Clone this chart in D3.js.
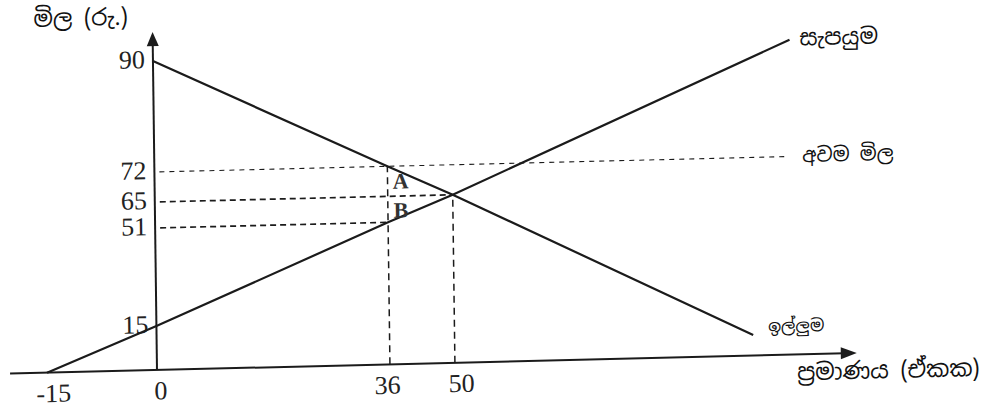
<!DOCTYPE html>
<html>
<head>
<meta charset="utf-8">
<script src="https://cdn.jsdelivr.net/npm/d3@7"></script>
<style>
  body { margin: 0; background: #fff; }
  .num { font-family: "Liberation Serif", "Times New Roman", serif; font-size: 26px; fill: #222; }
  .si { font-family: "Noto Sans Sinhala", "Iskoola Pota", "Noto Sans", sans-serif; font-size: 20px; fill: #111; }
  .pt { font-family: "Liberation Serif", serif; font-weight: bold; font-size: 22px; fill: #333; }
</style>
</head>
<body>
<div id="chart"></div>
<script>
// tick values
var xTicks = [-15, 0, 36, 50];
var yTicks = [15, 51, 65, 72, 90];

// curves as (quantity, price)
var demand = [[0, 90], [36, 72], [50, 65], [102, 7]];
var supply = [[-15, 0], [0, 15], [36, 51], [50, 65], [109, 92]];
var minPrice = 72;
var minPriceEnd = 108;
var equilibrium = [50, 65];
var pointA = [36, 72];
var pointB = [36, 51];

// labels
var yTitle = "මිල (රු.)";
var xTitle = "ප්‍රමාණය (ඒකක)";
var supplyLabel = "සැපයුම";
var demandLabel = "ඉල්ලුම";
var minPriceLabel = "අවම මිල";

var svgWidth = 991;
var svgHeight = 408;

var svg = d3.select("#chart")
  .append("svg")
  .attr("width", svgWidth)
  .attr("height", svgHeight);

// the drawing is not to scale, so both scales are piecewise
var x = d3.scaleLinear()
  .domain([-20, -15, 0, 36, 50, 120])
  .range([-147, -110, 0, 233, 298, 700]);

var y = d3.scaleLinear()
  .domain([0, 15, 51, 65, 72, 90, 100])
  .range([0, -44, -142, -168, -198, -309, -338]);

// origin sits at (157, 370), page is scanned slightly tilted
var g = svg.append("g")
  .attr("transform", "translate(157,370) matrix(0.9997,-0.0244,0.0131,0.9999,0,0)");

var ink = "#1b1b1b";

// dashed guide lines
var dashes = g.append("g").attr("fill", "none").attr("stroke", ink);

dashes.append("line")
  .attr("x1", 5).attr("x2", x(minPriceEnd))
  .attr("y1", y(minPrice)).attr("y2", y(minPrice))
  .attr("stroke-width", 1.1)
  .attr("stroke-dasharray", "5,5");

dashes.append("line")
  .attr("x1", 5).attr("x2", x(equilibrium[0]))
  .attr("y1", y(equilibrium[1])).attr("y2", y(equilibrium[1]))
  .attr("stroke-width", 1.7)
  .attr("stroke-dasharray", "6,4");

dashes.append("line")
  .attr("x1", 5).attr("x2", x(pointB[0]))
  .attr("y1", y(pointB[1])).attr("y2", y(pointB[1]))
  .attr("stroke-width", 1.7)
  .attr("stroke-dasharray", "6,4");

dashes.append("line")
  .attr("x1", x(pointA[0])).attr("x2", x(pointA[0]))
  .attr("y1", 0).attr("y2", y(pointA[1]))
  .attr("stroke-width", 1.5)
  .attr("stroke-dasharray", "7,5");

dashes.append("line")
  .attr("x1", x(equilibrium[0])).attr("x2", x(equilibrium[0]))
  .attr("y1", 0).attr("y2", y(equilibrium[1]))
  .attr("stroke-width", 1.5)
  .attr("stroke-dasharray", "7,5");

// axes lines with arrows
g.append("line")
  .attr("x1", x(-20)).attr("x2", x(120) - 12)
  .attr("y1", 0).attr("y2", 0)
  .attr("stroke", ink).attr("stroke-width", 2);

g.append("path")
  .attr("d", `M${x(120)},0 L${x(120) - 16},-6 L${x(120) - 16},6 Z`)
  .attr("fill", ink);

g.append("line")
  .attr("x1", 0).attr("x2", 0)
  .attr("y1", 0).attr("y2", y(100) + 10)
  .attr("stroke", ink).attr("stroke-width", 2);

g.append("path")
  .attr("d", `M0,${y(100)} L-6,${y(100) + 14} L6,${y(100) + 14} Z`)
  .attr("fill", ink);

// tick labels only, no tick marks
var bottomAxis = d3.axisBottom(x)
  .tickValues(xTicks)
  .tickFormat(d => String(d))
  .tickSize(0)
  .tickPadding(11);
var leftAxis = d3.axisLeft(y).tickValues(yTicks).tickSize(0).tickPadding(8);

var xg = g.append("g").call(bottomAxis);
xg.select(".domain").remove();
xg.selectAll("text")
  .attr("class", "num")
  .attr("dx", d => d === 0 ? 3 : (d === 36 ? -3 : 6))
  .attr("dy", "0.71em")
  .attr("font-family", null).attr("font-size", null).attr("fill", null);

var yg = g.append("g").call(leftAxis);
yg.select(".domain").remove();
yg.selectAll("text")
  .attr("class", "num")
  .attr("dy", "0.25em")
  .attr("font-family", null).attr("font-size", null).attr("fill", null);

// demand and supply
var line = d3.line()
  .x(d => x(d[0]))
  .y(d => y(d[1]));

g.append("path")
  .datum(demand)
  .attr("d", line)
  .attr("fill", "none")
  .attr("stroke", ink)
  .attr("stroke-width", 2.2);

g.append("path")
  .datum(supply)
  .attr("d", line)
  .attr("fill", "none")
  .attr("stroke", ink)
  .attr("stroke-width", 2.2);

// points A and B
g.append("text").attr("class", "pt")
  .attr("x", x(pointA[0]) + 13).attr("y", y(pointA[1]) + 15)
  .attr("text-anchor", "middle").attr("dominant-baseline", "central")
  .text("A");

g.append("text").attr("class", "pt")
  .attr("x", x(pointB[0]) + 13).attr("y", y(pointB[1]) - 12)
  .attr("text-anchor", "middle").attr("dominant-baseline", "central")
  .text("B");

// curve and axis titles
var sEnd = supply[supply.length - 1];
var dEnd = demand[demand.length - 1];

g.append("text").attr("class", "si")
  .attr("x", x(sEnd[0]) + 10).attr("y", y(sEnd[1]) - 2)
  .attr("dominant-baseline", "central")
  .style("font-size", "22px")
  .text(supplyLabel);

g.append("text").attr("class", "si")
  .attr("x", x(dEnd[0]) + 15).attr("y", y(dEnd[1]) - 8)
  .attr("dominant-baseline", "central")
  .style("font-size", "17px")
  .text(demandLabel);

g.append("text").attr("class", "si")
  .attr("x", x(minPriceEnd) + 17).attr("y", y(minPrice) - 1)
  .attr("dominant-baseline", "central")
  .text(minPriceLabel);

g.append("text").attr("class", "si")
  .attr("x", x(120) - 60).attr("y", 18)
  .attr("dominant-baseline", "central")
  .style("font-size", "23px")
  .text(xTitle);

g.append("text").attr("class", "si")
  .attr("x", -119).attr("y", y(100) - 16)
  .attr("dominant-baseline", "central")
  .style("font-size", "23px")
  .text(yTitle);
</script>
</body>
</html>
